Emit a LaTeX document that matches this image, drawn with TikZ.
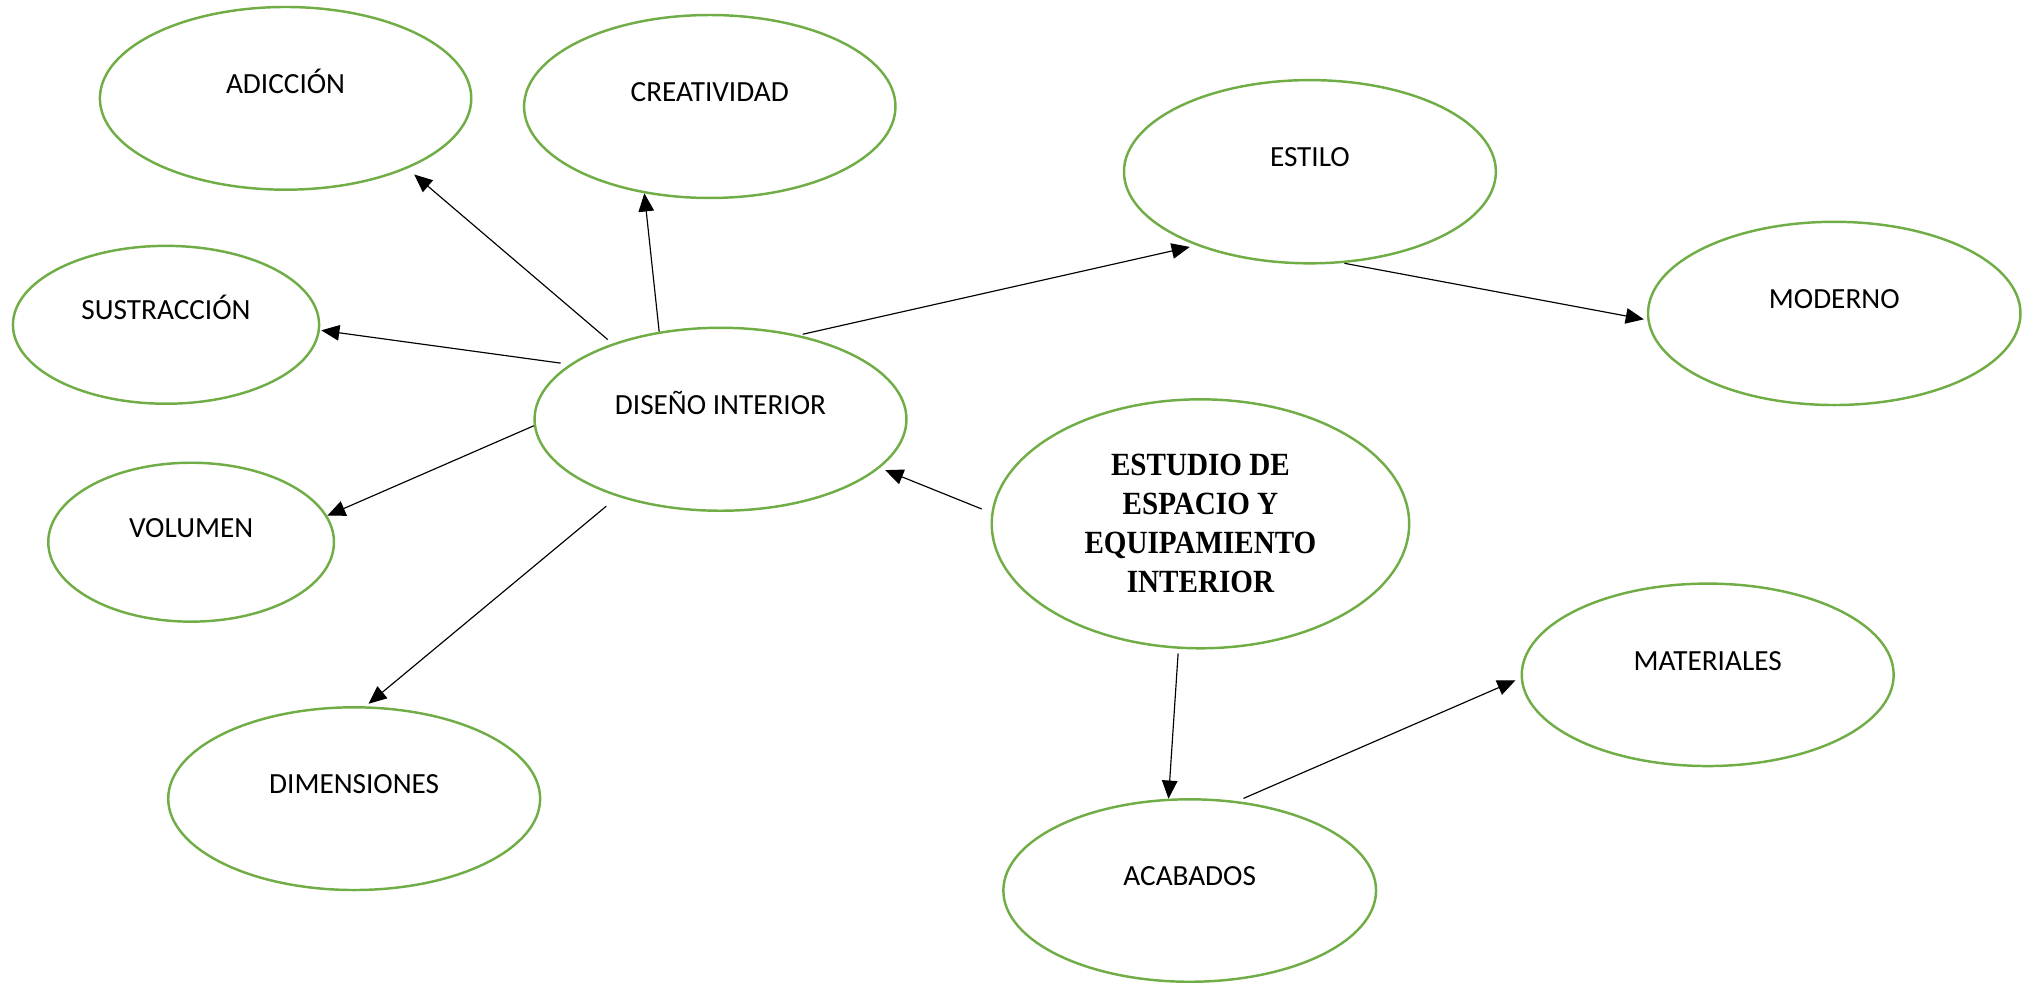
\documentclass[tikz,border=0pt]{standalone}
\usepackage{fontspec}
\setmainfont{Carlito}
\newfontfamily\stufont[FakeStretch=0.9]{Liberation Serif}
\usetikzlibrary{shapes.geometric,arrows.meta}
\definecolor{ogreen}{HTML}{70AD47}
\tikzset{
  bubble/.style={ellipse, draw=ogreen, line width=0.95pt, inner sep=0pt,
    minimum width=#1},
  lbl/.style={label={[font=\fontsize{11.3pt}{13pt}\selectfont, text height=7.28pt,
    text depth=0pt, inner sep=0pt, yshift=5.5pt]center:#1}},
  conn/.style={-{Triangle[length=7pt,width=6pt]}, line width=0.45pt, black}
}
\begin{document}
\begin{tikzpicture}[x=0.5pt,y=-0.5pt]
\useasboundingbox (0,0) rectangle (1568,759.7);
\node[bubble=143.5pt, minimum height=70.6pt, lbl={ADICCIÓN}] (adi) at (220.7,76) {};
\node[bubble=143.5pt, minimum height=70.7pt, lbl={CREATIVIDAD}] (cre) at (548.5,82.3) {};
\node[bubble=118.3pt, minimum height=61pt, lbl={SUSTRACCIÓN}] (sus) at (128.3,251) {};
\node[bubble=110.4pt, minimum height=61.4pt, lbl={VOLUMEN}] (vol) at (147.7,419) {};
\node[bubble=143.7pt, minimum height=70.7pt, lbl={DISEÑO INTERIOR}] (dis) at (556.8,324) {};
\node[bubble=143.7pt, minimum height=70.6pt, lbl={DIMENSIONES}] (dim) at (273.7,617.2) {};
\node[bubble=143.7pt, minimum height=70.8pt, lbl={ESTILO}] (est) at (1012.3,132.7) {};
\node[bubble=143.9pt, minimum height=70.8pt, lbl={MODERNO}] (mod) at (1417.5,242.2) {};
\node[bubble=161.3pt, minimum height=96.2pt, align=center,
  font=\stufont\bfseries\fontsize{12.5pt}{15.1pt}\selectfont] (stu) at (927.7,404.8)
  {ESTUDIO DE\\ESPACIO Y\\EQUIPAMIENTO\\INTERIOR};
\node[bubble=143.7pt, minimum height=70.5pt, lbl={MATERIALES}] (mat) at (1319.7,521.5) {};
\node[bubble=144pt, minimum height=70.5pt, lbl={ACABADOS}] (aca) at (919.4,688.2) {};

\draw[conn, shorten <=2.4pt, shorten >=3.5pt] (dis.145.6) -- (adi.-30.8);
\draw[conn] (dis.125) -- (cre.-127.1);
\draw[conn, shorten <=3.5pt, shorten >=0.5pt] (dis.160.2) -- (sus.-2.65);
\draw[conn] (dis.-178.8) -- (vol.11.7);
\draw[conn, shorten <=5.75pt, shorten >=1.5pt] (dis.-143.6) -- (dim.83.2);
\draw[conn, shorten <=1.5pt, shorten >=2.6pt] (dis.47.2) -- (est.-147);
\draw[conn, shorten <=0.5pt, shorten >=1.35pt] (est.-70.3) -- (mod.-178.1);
\draw[conn, shorten <=4pt, shorten >=2.25pt] (stu.177.3) -- (dis.-17.1);
\draw[conn, shorten <=1.75pt] (stu.-100.5) -- (aca.103.7);
\draw[conn, shorten <=2.65pt, shorten >=2.2pt] (aca.62.7) -- (mat.-179.4);
\end{tikzpicture}
\end{document}
